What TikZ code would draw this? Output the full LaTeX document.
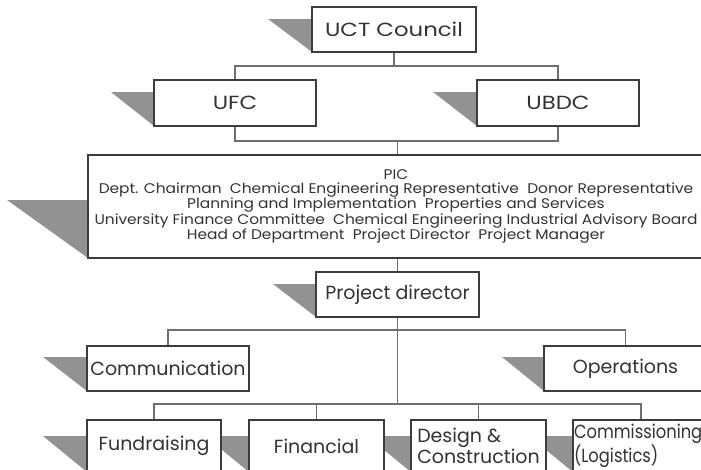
\documentclass[tikz,border=0pt]{standalone}
\usepackage{fontspec}
\setmainfont{Poppins}
\newfontfamily\widefont{Poppins}[FakeStretch=1.2]
\newfontfamily\picfont{Poppins}[FakeStretch=1.1]
\newfontfamily\narrowfont{Poppins}[FakeStretch=0.86]
\usepackage{tikz}
\pgfdeclarelayer{under}
\pgfsetlayers{under,main}

\definecolor{edgec}{HTML}{3C3C3C}
\definecolor{wirec}{HTML}{6E6E6E}
\definecolor{shadec}{HTML}{929292}
\definecolor{inkc}{HTML}{333333}

\tikzset{
  box/.style={draw=edgec, fill=white, line width=1.1pt, inner sep=0pt, outer sep=0pt,
    anchor=north west, text=inkc, align=center, font=\fontsize{19}{19.5}\selectfont},
  widebox/.style={box, font=\widefont\fontsize{19}{19.5}\selectfont},
  wire/.style={draw=wirec, line width=1.4pt},
  shade/.style={fill=shadec},
}
% grey wedge hanging off the lower left corner of a box: node, width, height
\newcommand\shadewedge[3]{\fill[shade] (#1.south west) -- ++(0,-#3) -- ++(-#2,0) -- cycle;}

\begin{document}
\begin{tikzpicture}[x=1pt,y=-1pt]
\useasboundingbox (0,0) rectangle (701,469);
\begin{scope}
\clip (0,0) rectangle (701,469);
% boxes
\node[widebox, minimum width=164pt, minimum height=45pt] (uct) at (312,7) {UCT Council};
\node[widebox, minimum width=162pt, minimum height=46pt] (ufc) at (154,80) {UFC};
\node[widebox, minimum width=162pt, minimum height=46pt] (ubdc) at (477,80) {UBDC};
\node[box, minimum width=616pt, minimum height=103pt, font=\picfont\fontsize{14}{13.6}\selectfont] (pic) at (88,155)
  {PIC\\
   Dept. Chairman\ \ Chemical Engineering Representative\ \ Donor Representative\\
   Planning and Implementation\ \ Properties and Services\\
   University Finance Committee\ \ Chemical Engineering Industrial Advisory Board\\
   Head of Department\ \ Project Director\ \ Project Manager};
\node[box, minimum width=163pt, minimum height=45pt] (pd) at (316,272) {Project director};
\node[box, minimum width=162pt, minimum height=45pt] (comm) at (87,346) {Communication};
\node[box, minimum width=163pt, minimum height=45pt] (ops) at (544,346) {Operations};
\node[box, minimum width=134pt, minimum height=52pt] (fund) at (87,420) {Fundraising};
\node[box, minimum width=135pt, minimum height=52pt] (fin) at (249,420) {Financial};
\node[box, minimum width=135pt, minimum height=52pt, align=left] (des) at (411,420) {Design \&\\Construction};
\node[box, minimum height=52pt, align=left, text width=134pt, inner xsep=1pt,
      font=\narrowfont\fontsize{19}{19.5}\selectfont] (cms) at (573,420) {Commissioning\\(Logistics)};
\end{scope}

\begin{pgfonlayer}{under}
\clip (0,0) rectangle (701,469);
\coordinate (busA) at (0,66);
\coordinate (busB) at (0,141);
\coordinate (busC) at (0,330);
\coordinate (busD) at (0,404);
% connectors
\draw[wire] (uct.south) -- (uct.south |- busA);
\draw[wire] (ufc.center |- busA) rectangle (ubdc.center |- busB);
\draw[wire] (pd.center |- busB) -- (pd.center |- pic.north);
\draw[wire] (pic.south -| pd.center) -- (pd.north);
\draw[wire] (pd.south) -- (pd.center |- busD);
\draw[wire] (comm.north) |- (ops.north |- busC) -- (ops.north);
\draw[wire] (fund.north) |- (cms.north |- busD) -- (cms.north);
\draw[wire] (fin.north) -- (fin.north |- busD);
\draw[wire] (des.north) -- (des.north |- busD);
% wedges
\shadewedge{uct}{44}{33}
\shadewedge{ufc}{43}{34}
\shadewedge{ubdc}{44}{34}
\shadewedge{pic}{81}{58}
\shadewedge{pd}{43}{33}
\shadewedge{comm}{44}{34}
\shadewedge{ops}{42}{34}
\shadewedge{fund}{44}{36}
\shadewedge{fin}{44}{36}
\shadewedge{des}{44}{36}
\shadewedge{cms}{44}{36}
\end{pgfonlayer}
\end{tikzpicture}
\end{document}
